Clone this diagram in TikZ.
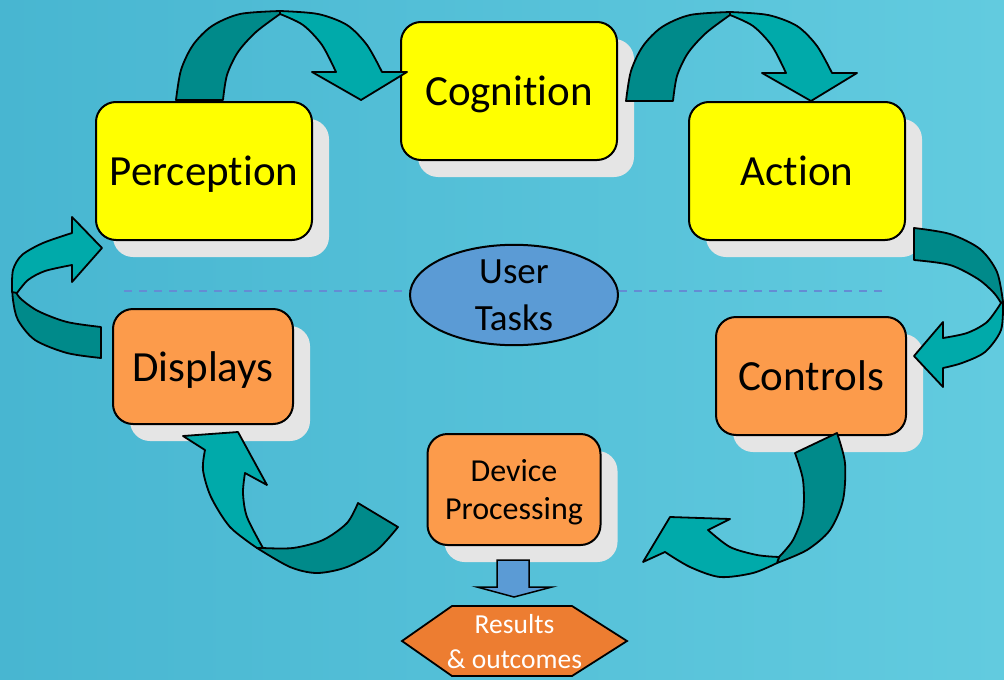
\documentclass[tikz,border=0pt]{standalone}
\usepackage{fontspec}
\setmainfont{Carlito}[Ligatures=NoCommon]
\usetikzlibrary{shapes.geometric,shadows}

\definecolor{bgL}{RGB}{72,182,209}
\definecolor{bgR}{RGB}{98,203,223}
\definecolor{boxyellow}{RGB}{255,255,0}
\definecolor{boxorange}{RGB}{252,155,75}
\definecolor{hexorange}{RGB}{237,125,49}
\definecolor{taskblue}{RGB}{91,155,213}
\definecolor{shadowgray}{RGB}{229,229,229}
\definecolor{tealdark}{RGB}{0,138,138}
\definecolor{teallight}{RGB}{0,170,170}
\definecolor{dashblue}{RGB}{100,140,212}

\tikzset{
  card/.style={draw=black, line width=2pt, rounded corners=20pt, inner sep=0pt,
    text=black, text depth=0pt,
    drop shadow={shadow xshift=17pt, shadow yshift=-17pt, fill=shadowgray, opacity=1}},
  ycard/.style={card, fill=boxyellow, font=\fontsize{43}{50}\selectfont},
  ocard/.style={card, fill=boxorange, font=\fontsize{43}{50}\selectfont},
  ribbonback/.style={fill=tealdark, draw=black, line width=1.8pt, line join=round},
  ribbonfront/.style={fill=teallight, draw=black, line width=1.8pt, line join=round},
  divider/.style={draw=dashblue, line width=1.2pt, dash pattern=on 8pt off 7pt},
}

\begin{document}
\begin{tikzpicture}[x=1pt, y=-1pt]
\useasboundingbox (0,0) rectangle (1004,680);
\clip (0,0) rectangle (1004,680);

% backdrop
\shade[left color=bgL, right color=bgR] (0,0) rectangle (1004,680);

% horizontal divider through the middle
\coordinate (dl) at (124,291);
\coordinate (dr) at (885,291);
\draw[divider] (dl) -- (dr);

% stage boxes
\node[ycard, minimum width=216pt, minimum height=138pt] (perc) at (204,171) {Perception};
\node[ycard, minimum width=216pt, minimum height=138pt] (cogn) at (509,91) {Cognition};
\node[ycard, minimum width=216pt, minimum height=138pt] (act)  at (797,171) {Action};
\node[ocard, minimum width=180pt, minimum height=115pt] (disp) at (203,366.5) {Displays};
\node[ocard, minimum width=190pt, minimum height=118pt] (ctrl) at (811,376) {Controls};
\node[ocard, minimum width=173pt, minimum height=111pt, align=center,
      font=\fontsize{32}{38}\selectfont] (dev) at (514,489.5) {Device\\Processing};

% centre ellipse
\node[ellipse, draw=black, line width=2pt, fill=taskblue, minimum width=208pt,
      minimum height=98pt, inner sep=0pt, align=center,
      font=\fontsize{37}{47}\selectfont] (task) at (514,295) {User\\Tasks};

% output hexagon
\coordinate (hexc) at (514.5,641.5);
\draw[line width=1.8pt, fill=hexorange] (402,641) -- (452,606) -- (572,606)
  -- (627,641) -- (572,676) -- (452,676) -- cycle;
\node[text=white, align=center, inner sep=0pt, font=\fontsize{27.5}{35}\selectfont]
  (res) at (hexc) {Results\\\& outcomes};

% block arrow from processing down to the results
\draw[line width=1.5pt, fill=taskblue, line join=miter] (497,560) -- (529,560) -- (529,587)
  -- (552,587) -- (514,597) -- (477,587) -- (497,587) -- cycle;

% ribbon arrow: Perception -> Cognition (reused, shifted, for Cognition -> Action)
\foreach \dx/\dy in {0/0, 450/1} {
\begin{scope}[shift={(\dx,\dy)}]
  \draw[ribbonback] (176,100) -- plot[smooth] coordinates {(176,100) (181,70) (193,45) (212,26) (240,14) (280,11)}
    -- plot[smooth] coordinates {(280,14) (256,32) (238,52) (227,75) (223,100)} -- cycle;
  \draw[ribbonfront] (280,11) -- plot[smooth] coordinates {(280,11) (318,14) (347,25) (367,45) (382,72)}
    -- (407,72) -- (361,100) -- (312,72) -- (336,72)
    -- plot[smooth] coordinates {(336,72) (322,45) (303,25) (280,14)} -- cycle;
\end{scope}
}

% ribbon arrow: Action -> Controls
\draw[ribbonback] (914,228) -- plot[smooth] coordinates {(914,228) (950,234) (980,249) (997,272) (1003,302)}
  -- plot[smooth] coordinates {(1001,303) (994,293) (978,279) (950,265) (914,260)} -- cycle;
\draw[ribbonfront] (1003,302) -- plot[smooth] coordinates {(1003,302) (1001,330) (985,352) (962,363) (943,368)}
  -- (943,387) -- (914,356) -- (943,322) -- (943,338)
  -- plot[smooth] coordinates {(943,338) (967,333) (987,322) (1001,303)} -- cycle;

% ribbon arrow: Controls -> Device Processing
\draw[ribbonback] (795,453) -- (837,433)
  -- plot[smooth] coordinates {(837,433) (845,463) (843,500) (830,530) (807,550) (777,563)}
  -- plot[smooth] coordinates {(779,557) (793,540) (803,513) (803,480) (795,453)} -- cycle;
\draw[ribbonfront] (777,563) -- plot[smooth] coordinates {(777,563) (753,573) (720,577) (690,567) (665,552)}
  -- (643,562) -- (670,517) -- (730,519) -- (708,530)
  -- plot[smooth] coordinates {(708,530) (730,547) (757,555) (779,557)} -- cycle;

% ribbon arrow: Device Processing -> Displays
\draw[ribbonback] (358,503) -- (398,527)
  -- plot[smooth] coordinates {(398,527) (377,550) (347,567) (317,573) (290,567) (257,548)}
  -- plot[smooth] coordinates {(263,548) (293,548) (323,540) (347,523) (358,503)} -- cycle;
\draw[ribbonfront] (257,548) -- plot[smooth] coordinates {(257,548) (230,527) (211,497) (203,470) (205,450)}
  -- (183,436) -- (238,432) -- (267,485) -- (245,473)
  -- plot[smooth] coordinates {(245,473) (243,493) (247,517) (263,548)} -- cycle;

% ribbon arrow: Displays -> Perception
\draw[ribbonback] (12,282) -- plot[smooth] coordinates {(12,282) (13,300) (18,320) (35,340) (67,353) (101,358)}
  -- (101,327) -- plot[smooth] coordinates {(101,327) (67,322) (38,311) (20,298) (14,288)} -- cycle;
\draw[ribbonfront] (72,265) -- plot[smooth] coordinates {(72,265) (45,271) (28,280) (17,293)}
  -- plot[smooth] coordinates {(12,292) (13,270) (22,255) (43,243) (72,233)}
  -- (72,217) -- (102,248) -- (72,282) -- cycle;

\end{tikzpicture}
\end{document}
